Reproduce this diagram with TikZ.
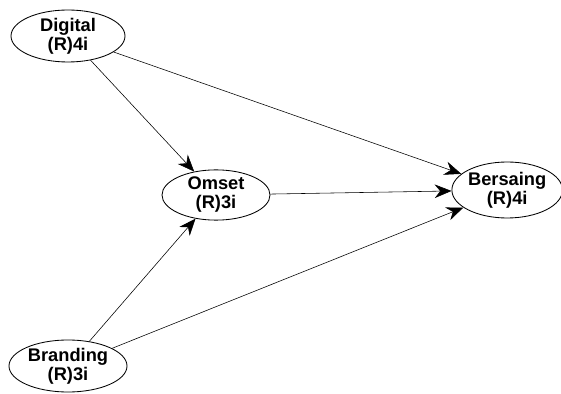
\documentclass[tikz,border=0pt]{standalone}
\usepackage{fontspec}
\setmainfont{Liberation Sans}
\usetikzlibrary{arrows.meta,shapes.geometric}

\begin{document}
\begin{tikzpicture}[every node/.style={font=\bfseries\fontsize{13}{13.5}\selectfont}, >={Stealth[length=4.2mm, width=3.4mm]}, v/.style={draw, ellipse, fill=white, inner sep=0pt, align=center, line width=0.6pt}]
	\useasboundingbox[fill=white] (0,0) rectangle (14.025,-9.85);
	\node[v, minimum width=2.85cm, minimum height=1.3cm] (dig) at (1.7,-0.9) {Digital\\(R)4i};
	\node[v, minimum width=2.7cm, minimum height=1.25cm] (oms) at (5.4,-4.875) {Omset\\(R)3i};
	\node[v, minimum width=2.65cm, minimum height=1.4cm] (ber) at (12.68,-4.75) {Bersaing\\(R)4i};
	\node[v, minimum width=2.95cm, minimum height=1.3cm] (bra) at (1.7,-9.15) {Branding\\(R)3i};
	\draw[->] (dig) -- (oms);
	\draw[->] (dig) -- (ber);
	\draw[->] (oms) -- (ber);
	\draw[->] (bra) -- (oms);
	\draw[->] (bra) -- (ber);
\end{tikzpicture}
\end{document}
